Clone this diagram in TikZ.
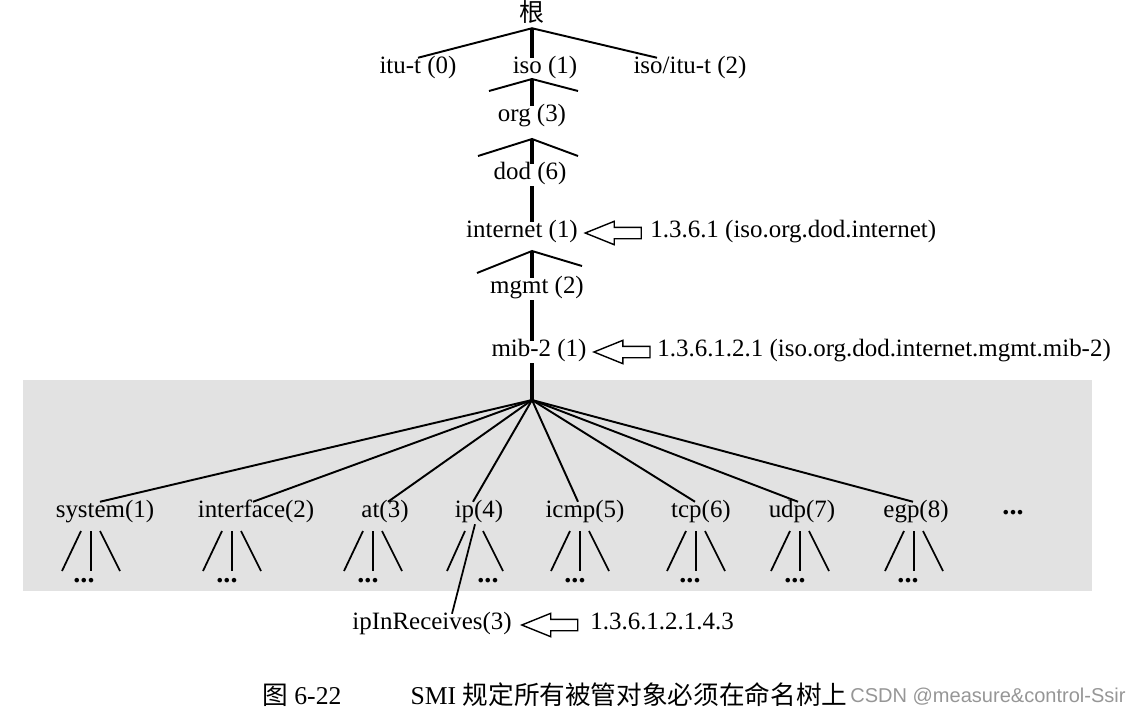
\documentclass[tikz,border=0pt]{standalone}
\usepackage{fontspec}
\setmainfont{Liberation Serif}
\newfontfamily\cjk{Noto Sans CJK SC}
\newfontfamily\wmfont{Liberation Sans}
\usepackage{tikz}
\usetikzlibrary{shapes.arrows,positioning}
\definecolor{bggray}{RGB}{226, 226, 226}
\definecolor{wmgray}{RGB}{150, 150, 150}

\begin{document}
\begin{tikzpicture}[x=0.02cm, y=-0.02cm,
    font=\fontsize{14.2}{17}\selectfont,
    lbl/.style={inner sep=1.5pt, text height=0.72em, text depth=0.22em},
    oid/.style={lbl, inner xsep=0pt, anchor=west},
    stub/.style={line width=1.1pt},
    trunk/.style={line width=2.4pt},
    twig/.style={line width=1pt},
    fatarrow/.style={draw, single arrow, shape border rotate=180, line width=0.8pt,
        inner sep=0.1cm, minimum height=1.12cm,
        single arrow head extend=0.12cm, single arrow tip angle=44,
        single arrow head indent=0pt, anchor=tip},
    dots/.style={inner sep=0pt, font=\fontsize{16}{16}\selectfont\bfseries}]

    \useasboundingbox (0,0) rectangle (1135,720);

    % Shaded area under mib-2
    \fill[bggray] (23,380) rectangle (1092,591);

    % Root and first level
    \node[lbl] (root) at (532,17) {\cjk 根};
    \node[lbl] (itut) at (418,69) {itu-t (0)};
    \node[lbl] (iso) at (545,69) {iso (1)};
    \node[lbl] (isoitut) at (690,69) {iso/itu-t (2)};
    \draw[stub] (itut.north) -- (root.south) -- ([xshift=-0.66cm]isoitut.north);
    \draw[trunk] (root.south) -- (root.south |- iso.north);

    % iso -> org -> dod
    \coordinate (j1) at (532,79);
    \node[lbl] (org) at (532,117) {org (3)};
    \draw[stub] (j1) ++(-43,12) -- (j1) -- ++(46,12);
    \draw[trunk] (j1) -- (org.north);
    \coordinate (j2) at (532,139);
    \node[lbl] (dod) at (530,175) {dod (6)};
    \draw[stub] (j2) ++(-54,17) -- (j2) -- ++(46,17);
    \draw[trunk] (j2) -- (dod.north -| j2);

    % internet
    \node[lbl] (internet) at (522,233) {internet (1)};
    \draw[trunk] (dod.south -| j2) -- (internet.north -| j2);
    \node[fatarrow] (arr1) at ([xshift=1.5pt]internet.east) {};
    \node[oid] (oid1) at (650,233) {1.3.6.1 (iso.org.dod.internet)};

    % mgmt and mib-2
    \coordinate (j3) at (532,251);
    \node[lbl] (mgmt) at (537,289) {mgmt (2)};
    \draw[stub] (j3) ++(-55,22) -- (j3) -- ++(50,15);
    \draw[trunk] (j3) -- (mgmt.north -| j3);
    \node[lbl] (mib) at (539,352) {mib-2 (1)};
    \draw[trunk] (mgmt.south -| j3) -- (mib.north -| j3);
    \node[fatarrow] (arr2) at ([xshift=1.5pt]mib.east) {};
    \node[oid] (oid2) at (657,352) {1.3.6.1.2.1 (iso.org.dod.internet.mgmt.mib-2)};

    % Groups under mib-2
    \coordinate (j4) at (532,400);
    \draw[trunk] (mib.south -| j4) -- (j4);
    \foreach \n/\t/\x/\d [count=\i] in {sys/system/105/-5, ifc/interface/256/-3,
            atb/at/385/3, ipg/ip/479/-6, icmp/icmp/585/-7, tcp/tcp/701/-6,
            udp/udp/802/-4, egp/egp/916/-3} {
        \node[lbl] (\n) at (\x,513) {\t(\i)};
        \draw[stub] (j4) -- ([xshift=\d*0.2mm]\n.north);
    }
    \node[dots] (more) at (1013,513) {...};

    % Subtrees
    \foreach \m/\dx in {91/84, 232/227, 373/368, 580/575, 696/690, 800/795, 914/908} {
        \draw[twig] (\m,531) ++(-10,0) -- ++(-19,40);
        \draw[twig] (\m,531) -- ++(0,40);
        \draw[twig] (\m,531) ++(9,0) -- ++(20,40);
        \node[dots] (dots\m) at (\dx,581) {...};
    }
    \draw[twig] (475,531) ++(-10,0) -- ++(-18,40);
    \draw[twig] (475,531) ++(8,0) -- ++(20,40);
    \node[dots] (dotsip) at (488,581) {...};

    % ipInReceives
    \node[lbl] (ipin) at (432,625) {ipInReceives(3)};
    \draw[twig] ([xshift=-0.08cm]ipg.south) -- ([xshift=0.4cm]ipin.north);
    \node[fatarrow] (arr3) at ([xshift=3pt]ipin.east) {};
    \node[oid] (oid3) at (590,625) {1.3.6.1.2.1.4.3};

    % Caption
    \node[anchor=west, inner sep=0pt, font=\fontsize{14.6}{17}\selectfont] (caption) at (262,695)
        {{\cjk 图} 6-22\hspace{2.7em}SMI\hspace{0.25em}{\cjk 规定所有被管对象必须在命名树上}};
    \node[anchor=west, inner sep=0pt, text=wmgray, font=\wmfont\fontsize{11.4}{13}\selectfont]
        (mark) at (850,697) {CSDN @measure\&control-Ssir};
\end{tikzpicture}
\end{document}
